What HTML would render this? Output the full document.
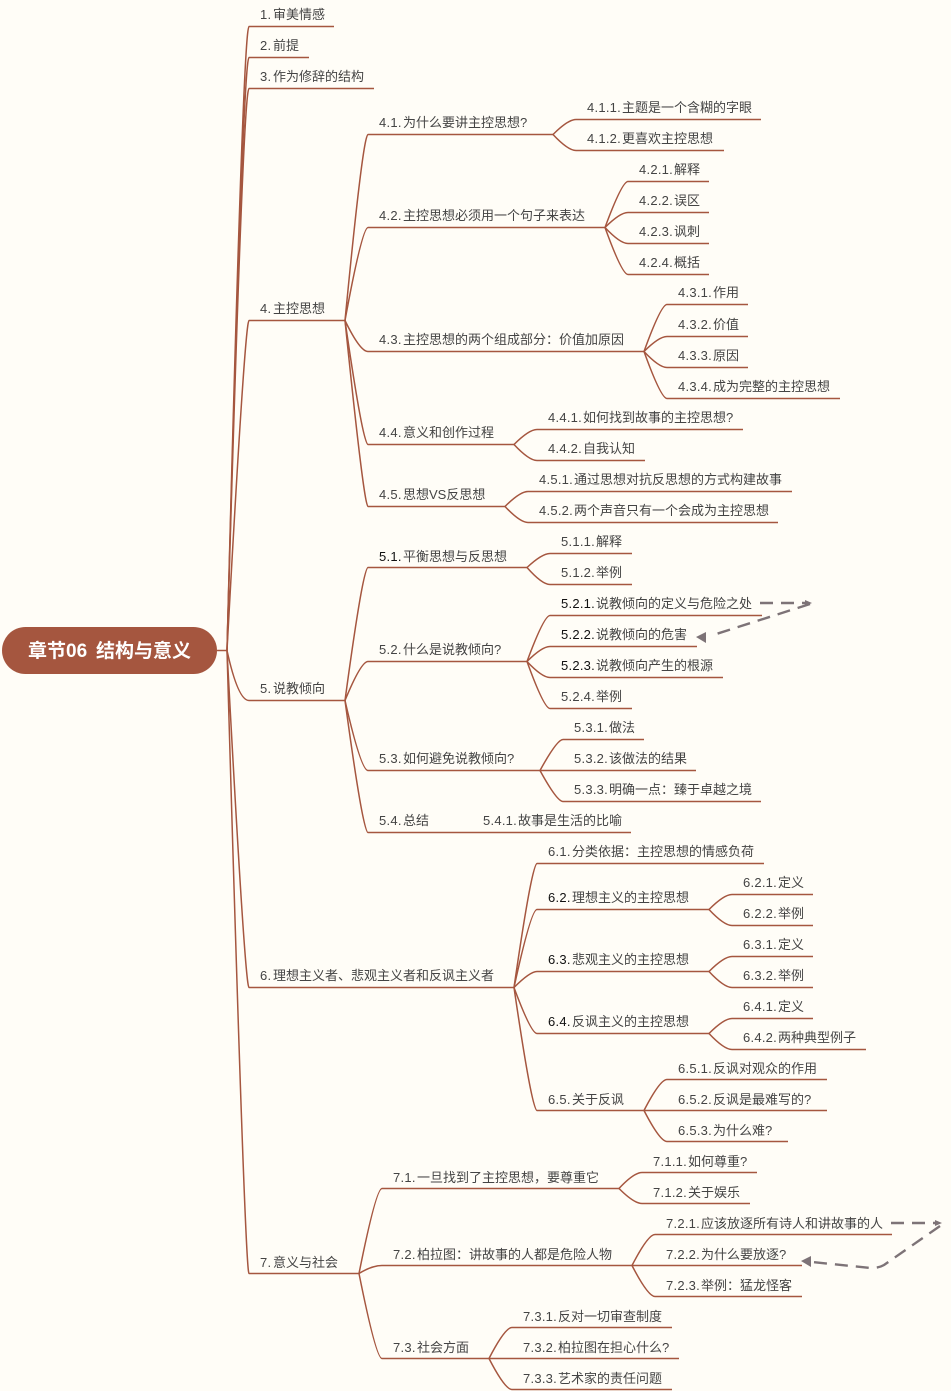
<!DOCTYPE html>
<html lang="zh"><head><meta charset="utf-8"><title>章节06 结构与意义</title>
<style>
html,body{margin:0;padding:0;background:#fffdf7}
svg{display:block}
text{font-family:"Liberation Sans","Noto Sans CJK SC",sans-serif;font-size:13px;fill:#444;letter-spacing:.25px}
tspan{letter-spacing:0}
.d{fill:#111}
.k{fill:#444}
.r{font-size:19px;font-weight:bold;fill:#fff;letter-spacing:0}
</style></head><body>
<svg width="951" height="1391" viewBox="0 0 951 1391" xmlns="http://www.w3.org/2000/svg">
<rect width="951" height="1391" fill="#fffdf7"/>
<g fill="none" stroke="#a5563f" stroke-width="1.5" transform="translate(0 .5)">
<path d="M217 650H227"/>
<path d="M227 650Q243 26 249 26H334"/>
<path d="M227 650Q243 57 249 57H309"/>
<path d="M227 650Q243 88 249 88H374"/>
<path d="M227 650Q245 320 249 320H345"/>
<path d="M227 650Q238 700 249 700H345"/>
<path d="M227 650Q245 987 249 987H514"/>
<path d="M227 650Q245 1273 249 1273H359"/>
<!-- 4 -->
<path d="M345 320Q363 134 368 134H553"/>
<path d="M345 320Q362 227 368 227H605"/>
<path d="M345 320Q360 351 368 351H644"/>
<path d="M345 320Q363 444 368 444H514"/>
<path d="M345 320Q364 506 368 506H505"/>
<path d="M553 134Q568 119 576 119H761"/>
<path d="M553 134Q568 150 576 150H724"/>
<path d="M605 227Q622 181 628 181H709"/>
<path d="M605 227Q620 212 628 212H709"/>
<path d="M605 227Q620 243 628 243H709"/>
<path d="M605 227Q622 274 628 274H709"/>
<path d="M644 351Q661 304 667 304H748"/>
<path d="M644 351Q659 336 667 336H748"/>
<path d="M644 351Q659 367 667 367H748"/>
<path d="M644 351Q661 398 667 398H840"/>
<path d="M514 444Q529 429 537 429H743"/>
<path d="M514 444Q529 460 537 460H645"/>
<path d="M505 506Q520 491 528 491H792"/>
<path d="M505 506Q520 522 528 522H778"/>
<!-- 5 -->
<path d="M345 700Q363 567 368 567H527"/>
<path d="M345 700Q361 661 368 661H527"/>
<path d="M345 700Q361 770 368 770H540"/>
<path d="M345 700Q363 832 368 832H631"/>
<path d="M527 567Q542 553 550 553H632"/>
<path d="M527 567Q542 584 550 584H632"/>
<path d="M527 661Q544 615 550 615H762"/>
<path d="M527 661Q542 646 550 646H697"/>
<path d="M527 661Q542 677 550 677H723"/>
<path d="M527 661Q544 708 550 708H632"/>
<path d="M540 770Q557 739 563 739H644"/>
<path d="M540 770H696"/>
<path d="M540 770Q557 801 563 801H761"/>
<!-- 6 -->
<path d="M514 987Q532 863 537 863H764"/>
<path d="M514 987Q531 909 537 909H709"/>
<path d="M514 987Q530 971 537 971H709"/>
<path d="M514 987Q531 1033 537 1033H709"/>
<path d="M514 987Q532 1110 537 1110H644"/>
<path d="M709 909Q724 894 732 894H813"/>
<path d="M709 909Q724 925 732 925H813"/>
<path d="M709 971Q724 956 732 956H813"/>
<path d="M709 971Q724 987 732 987H813"/>
<path d="M709 1033Q724 1018 732 1018H813"/>
<path d="M709 1033Q724 1049 732 1049H866"/>
<path d="M644 1110Q660 1079 667 1079H827"/>
<path d="M644 1110H827"/>
<path d="M644 1110Q660 1141 667 1141H788"/>
<!-- 7 -->
<path d="M359 1273Q376 1188 382 1188H619"/>
<path d="M359 1273Q372 1265 382 1265H632"/>
<path d="M359 1273Q376 1358 382 1358H489"/>
<path d="M619 1188Q634 1172 642 1172H757"/>
<path d="M619 1188Q634 1203 642 1203H750"/>
<path d="M632 1265Q648 1234 655 1234H892"/>
<path d="M632 1265H802"/>
<path d="M632 1265Q648 1296 655 1296H802"/>
<path d="M489 1358Q505 1327 512 1327H672"/>
<path d="M489 1358H679"/>
<path d="M489 1358Q505 1389 512 1389H672"/>
</g>
<rect x="2" y="627" width="215" height="47" rx="23.5" fill="#a5563f"/>
<text class="r" x="28" y="657">章节06<tspan x="96">结构与意义</tspan></text>
<g fill="none" stroke="#7d7377" stroke-width="2.4" stroke-dasharray="13 8">
<path d="M760 603H806"/>
<path d="M810 604L710 636"/>
<path d="M891 1223H936"/>
<path d="M940 1226L884 1265Q879 1268 871 1268L812 1262"/>
</g>
<g fill="#7d7377">
<path d="M805 600L812 603L805 606Z"/>
<path d="M696 637L706 632L706 643Z"/>
<path d="M935 1220L942 1223L935 1226Z"/>
<path d="M801 1261L811 1256L811 1267Z"/>
</g>
<g>
<text x="260" y="19">1.<tspan x="273">审美情感</tspan></text>
<text x="260" y="50">2.<tspan x="273">前提</tspan></text>
<text x="260" y="81">3.<tspan x="273">作为修辞的结构</tspan></text>
<text x="260" y="313">4.<tspan x="273">主控思想</tspan></text>
<text x="379" y="127">4.1.<tspan x="403">为什么要讲主控思想?</tspan></text>
<text x="587" y="112">4.1.1.<tspan x="622">主题是一个含糊的字眼</tspan></text>
<text x="587" y="143">4.1.2.<tspan x="622">更喜欢主控思想</tspan></text>
<text x="379" y="220">4.2.<tspan x="403">主控思想必须用一个句子来表达</tspan></text>
<text x="639" y="174">4.2.1.<tspan x="674">解释</tspan></text>
<text x="639" y="205">4.2.2.<tspan x="674">误区</tspan></text>
<text x="639" y="236">4.2.3.<tspan x="674">讽刺</tspan></text>
<text x="639" y="267">4.2.4.<tspan x="674">概括</tspan></text>
<text x="379" y="344">4.3.<tspan x="403">主控思想的两个组成部分：价值加原因</tspan></text>
<text x="678" y="297">4.3.1.<tspan x="713">作用</tspan></text>
<text x="678" y="329">4.3.2.<tspan x="713">价值</tspan></text>
<text x="678" y="360">4.3.3.<tspan x="713">原因</tspan></text>
<text x="678" y="391">4.3.4.<tspan x="713">成为完整的主控思想</tspan></text>
<text x="379" y="437">4.4.<tspan x="403">意义和创作过程</tspan></text>
<text x="548" y="422">4.4.1.<tspan x="583">如何找到故事的主控思想?</tspan></text>
<text x="548" y="453">4.4.2.<tspan x="583">自我认知</tspan></text>
<text x="379" y="499">4.5.<tspan x="403">思想VS反思想</tspan></text>
<text x="539" y="484">4.5.1.<tspan x="574">通过思想对抗反思想的方式构建故事</tspan></text>
<text x="539" y="515">4.5.2.<tspan x="574">两个声音只有一个会成为主控思想</tspan></text>
<text x="260" y="693">5.<tspan x="273">说教倾向</tspan></text>
<text class="d" x="379" y="561">5.1.<tspan class="k" x="403">平衡思想与反思想</tspan></text>
<text x="561" y="546">5.1.1.<tspan x="596">解释</tspan></text>
<text x="561" y="577">5.1.2.<tspan x="596">举例</tspan></text>
<text x="379" y="654">5.2.<tspan x="403">什么是说教倾向?</tspan></text>
<text class="d" x="561" y="608">5.2.1.<tspan class="k" x="596">说教倾向的定义与危险之处</tspan></text>
<text class="d" x="561" y="639">5.2.2.<tspan class="k" x="596">说教倾向的危害</tspan></text>
<text class="d" x="561" y="670">5.2.3.<tspan class="k" x="596">说教倾向产生的根源</tspan></text>
<text x="561" y="701">5.2.4.<tspan x="596">举例</tspan></text>
<text x="379" y="763">5.3.<tspan x="403">如何避免说教倾向?</tspan></text>
<text x="574" y="732">5.3.1.<tspan x="609">做法</tspan></text>
<text x="574" y="763">5.3.2.<tspan x="609">该做法的结果</tspan></text>
<text x="574" y="794">5.3.3.<tspan x="609">明确一点：臻于卓越之境</tspan></text>
<text x="379" y="825">5.4.<tspan x="403">总结</tspan></text>
<text x="483" y="825">5.4.1.<tspan x="518">故事是生活的比喻</tspan></text>
<text x="260" y="980">6.<tspan x="273">理想主义者、悲观主义者和反讽主义者</tspan></text>
<text x="548" y="856">6.1.<tspan x="572">分类依据：主控思想的情感负荷</tspan></text>
<text class="d" x="548" y="902">6.2.<tspan class="k" x="572">理想主义的主控思想</tspan></text>
<text x="743" y="887">6.2.1.<tspan x="778">定义</tspan></text>
<text x="743" y="918">6.2.2.<tspan x="778">举例</tspan></text>
<text class="d" x="548" y="964">6.3.<tspan class="k" x="572">悲观主义的主控思想</tspan></text>
<text x="743" y="949">6.3.1.<tspan x="778">定义</tspan></text>
<text x="743" y="980">6.3.2.<tspan x="778">举例</tspan></text>
<text class="d" x="548" y="1026">6.4.<tspan class="k" x="572">反讽主义的主控思想</tspan></text>
<text x="743" y="1011">6.4.1.<tspan x="778">定义</tspan></text>
<text x="743" y="1042">6.4.2.<tspan x="778">两种典型例子</tspan></text>
<text x="548" y="1104">6.5.<tspan x="572">关于反讽</tspan></text>
<text x="678" y="1073">6.5.1.<tspan x="713">反讽对观众的作用</tspan></text>
<text x="678" y="1104">6.5.2.<tspan x="713">反讽是最难写的?</tspan></text>
<text x="678" y="1135">6.5.3.<tspan x="713">为什么难?</tspan></text>
<text x="260" y="1267">7.<tspan x="273">意义与社会</tspan></text>
<text x="393" y="1182">7.1.<tspan x="417">一旦找到了主控思想，要尊重它</tspan></text>
<text x="653" y="1166">7.1.1.<tspan x="688">如何尊重?</tspan></text>
<text x="653" y="1197">7.1.2.<tspan x="688">关于娱乐</tspan></text>
<text x="393" y="1259">7.2.<tspan x="417">柏拉图：讲故事的人都是危险人物</tspan></text>
<text x="666" y="1228">7.2.1.<tspan x="701">应该放逐所有诗人和讲故事的人</tspan></text>
<text x="666" y="1259">7.2.2.<tspan x="701">为什么要放逐?</tspan></text>
<text x="666" y="1290">7.2.3.<tspan x="701">举例：猛龙怪客</tspan></text>
<text x="393" y="1352">7.3.<tspan x="417">社会方面</tspan></text>
<text x="523" y="1321">7.3.1.<tspan x="558">反对一切审查制度</tspan></text>
<text x="523" y="1352">7.3.2.<tspan x="558">柏拉图在担心什么?</tspan></text>
<text x="523" y="1383">7.3.3.<tspan x="558">艺术家的责任问题</tspan></text>
</g>
</svg>
</body></html>
